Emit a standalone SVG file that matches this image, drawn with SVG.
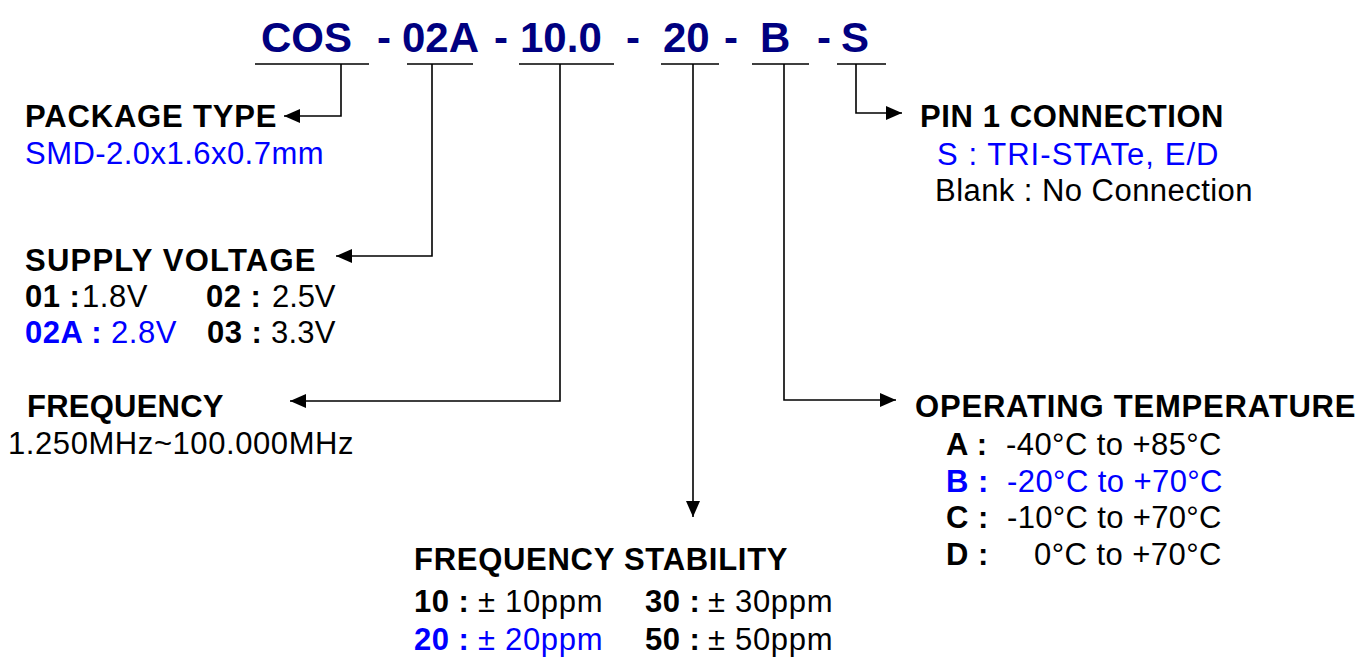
<svg xmlns="http://www.w3.org/2000/svg" width="1361" height="657" viewBox="0 0 1361 657">
<style>
text{font-family:"Liberation Sans",Arial,Helvetica,sans-serif;font-size:31px;fill:#000;letter-spacing:0.5px}
.t{font-size:42px;font-weight:bold;fill:#000080;letter-spacing:0}
.b{font-weight:bold}
.blue{fill:#0000ff}
.ln{stroke:#000;stroke-width:1.6;fill:none}
</style>
<defs>
<marker id="ah" viewBox="0 0 16 14" refX="16" refY="7" markerWidth="16" markerHeight="14" markerUnits="userSpaceOnUse" orient="auto">
<path d="M0,0 L16,7 L0,14 z" fill="#000"/>
</marker>
</defs>
<rect width="1361" height="657" fill="#fff"/>
<g id="title">
<text class="t" x="261" y="52">COS</text>
<text class="t" x="377" y="52">-</text>
<text class="t" x="402" y="52">02A</text>
<text class="t" x="494" y="52">-</text>
<text class="t" x="520" y="52">10.0</text>
<text class="t" x="626" y="52">-</text>
<text class="t" x="663" y="52">20</text>
<text class="t" x="724" y="52">-</text>
<text class="t" x="760" y="52">B</text>
<text class="t" x="817" y="52">-</text>
<text class="t" x="841" y="52">S</text>
</g>
<g id="connectors">
<path class="ln" d="M255,64H369M407,64H473M519,64H614M661,64H719M752,64H809M837,64H886"/>
<path class="ln" d="M341,64V116H284" marker-end="url(#ah)"/>
<path class="ln" d="M432,64V256H336" marker-end="url(#ah)"/>
<path class="ln" d="M560,64V401H290" marker-end="url(#ah)"/>
<path class="ln" d="M693,64V517" marker-end="url(#ah)"/>
<path class="ln" d="M784,64V400H896" marker-end="url(#ah)"/>
<path class="ln" d="M856,64V113H902" marker-end="url(#ah)"/>
</g>
<g id="package-type">
<text class="b" x="25" y="127" textLength="252">PACKAGE TYPE</text>
<text class="blue" x="25" y="164" textLength="299">SMD-2.0x1.6x0.7mm</text>
</g>
<g id="supply-voltage">
<text class="b" x="25" y="271" textLength="291">SUPPLY VOLTAGE</text>
<text class="b" x="25" y="307">01 :</text>
<text x="82" y="307" textLength="66">1.8V</text>
<text class="b" x="206" y="307">02 :</text>
<text x="272" y="307" textLength="64">2.5V</text>
<text class="b blue" x="25" y="343">02A :</text>
<text class="blue" x="111" y="343" textLength="66">2.8V</text>
<text class="b" x="207" y="343">03 :</text>
<text x="271" y="343" textLength="65">3.3V</text>
</g>
<g id="frequency">
<text class="b" x="27" y="417" textLength="197">FREQUENCY</text>
<text x="8" y="454" textLength="346">1.250MHz~100.000MHz</text>
</g>
<g id="frequency-stability">
<text class="b" x="414" y="570" textLength="374">FREQUENCY STABILITY</text>
<text class="b" x="414" y="612">10 :</text>
<text x="478" y="612" textLength="125">± 10ppm</text>
<text class="b" x="645" y="612">30 :</text>
<text x="708" y="612" textLength="125">± 30ppm</text>
<text class="b blue" x="414" y="650">20 :</text>
<text class="blue" x="478" y="650" textLength="125">± 20ppm</text>
<text class="b" x="645" y="650">50 :</text>
<text x="708" y="650" textLength="125">± 50ppm</text>
</g>
<g id="operating-temperature">
<text class="b" x="915" y="417" textLength="441">OPERATING TEMPERATURE</text>
<text class="b" x="946" y="455">A :</text>
<text x="1006" y="455" textLength="216">-40°C to +85°C</text>
<text class="b blue" x="946" y="492">B :</text>
<text class="blue" x="1007" y="492" textLength="216">-20°C to +70°C</text>
<text class="b" x="946" y="528">C :</text>
<text x="1007" y="528" textLength="215">-10°C to +70°C</text>
<text class="b" x="946" y="565">D :</text>
<text x="1034" y="565" textLength="188">0°C to +70°C</text>
</g>
<g id="pin1-connection">
<text class="b" x="920" y="127" textLength="304">PIN 1 CONNECTION</text>
<text class="blue" x="937" y="165" textLength="282">S : TRI-STATe, E/D</text>
<text x="935" y="201" textLength="318">Blank : No Connection</text>
</g>
</svg>
